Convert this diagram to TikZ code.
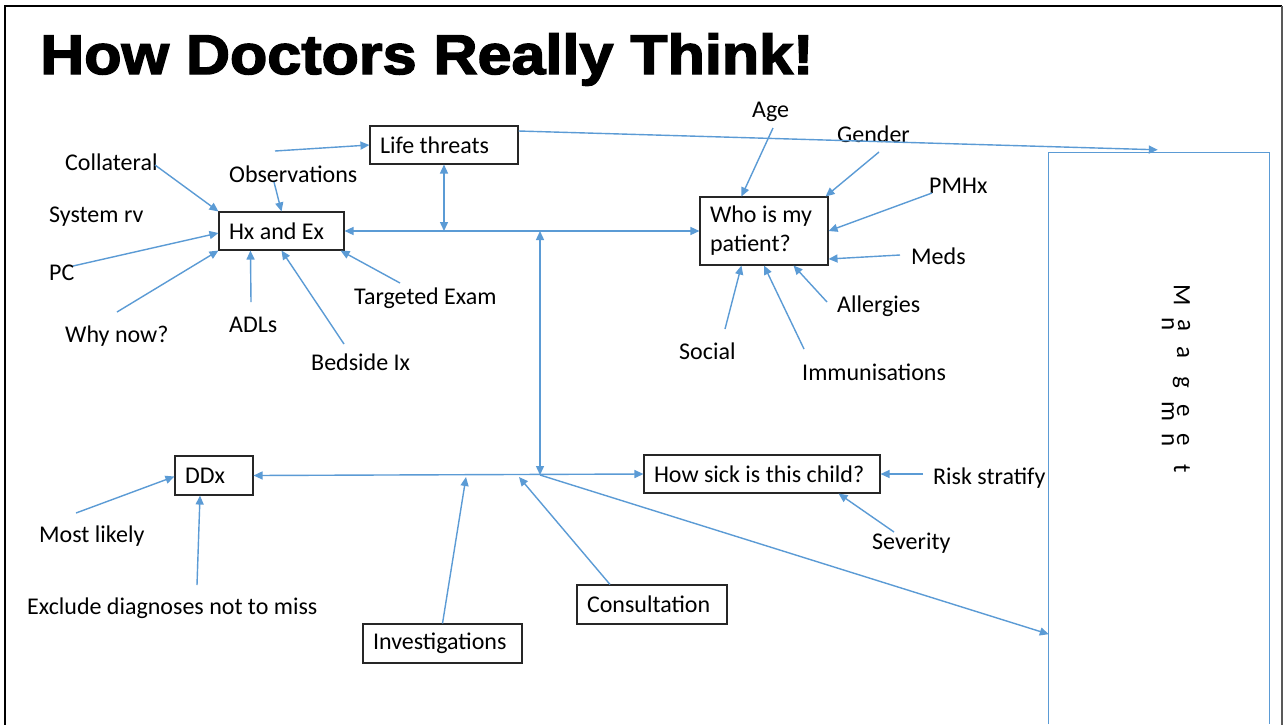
\documentclass[tikz,border=0pt]{standalone}
\usepackage{graphicx}
\usepackage{fontspec}
\setmainfont{Carlito}
\newfontfamily\titlefont[FakeBold=2.5]{Liberation Sans}
\usetikzlibrary{arrows.meta,calc}
\definecolor{linkblue}{RGB}{91,155,213}
\begin{document}
\begin{tikzpicture}[x=1pt,y=-1pt,
  every node/.style={font=\fontsize{24}{29}\selectfont},
  label/.style={anchor=base west, inner sep=0pt},
  box/.style={draw=black!85, line width=1.1pt, inner xsep=10pt, inner ysep=0pt, align=flush left},
  link/.style={draw=linkblue, line width=1.4pt},
  arr/.style={link, -{Triangle[length=9pt,width=8pt]}},
  darr/.style={link, {Triangle[length=9pt,width=8pt]}-{Triangle[length=9pt,width=8pt]}},
  letter/.style={rotate=-90, inner sep=0pt, font=\fontsize{25}{30}\selectfont}
]
\useasboundingbox (0,0) rectangle (1284,724);
\fill[white] (0,0) rectangle (1284,724);

% slide frame
\draw[black, line width=2.5pt] (5,730) -- (5,6) -- (1282,6);
\draw[black!65, line width=2pt] (1282,6) -- (1282,730);

% title
\node[anchor=base west, inner sep=0pt, font=\titlefont\bfseries\fontsize{56}{60}\selectfont] (title) at (40,74)
  {\scalebox{1.09}[1]{How Doctors Really Think!}};

% boxes
\node[box, text width=128pt, minimum height=38pt] (life) at (444,145) {\mbox{Life threats}};
\node[box, text width=105pt, minimum height=38pt] (hx) at (281.5,231) {\mbox{Hx and Ex}};
\node[box, text width=108pt, minimum height=68pt] (who) at (764,231) {\mbox{Who is my}\\\mbox{patient?}};
\node[box, text width=58pt, minimum height=39pt] (ddx) at (214,475.5) {\mbox{DDx}};
\node[box, text width=216pt, minimum height=38pt] (sick) at (762,474) {\mbox{How sick is this child?}};
\node[box, text width=130pt, minimum height=39pt] (consult) at (652,604.5) {\mbox{Consultation}};
\node[box, text width=139pt, minimum height=39pt] (invest) at (442.5,643.5) {\mbox{Investigations}};

% management column (open at the bottom)
\node[inner sep=0pt, minimum width=220pt, minimum height=571pt] (mgmt) at (1159,438.5) {};
\draw[link, line width=1.2pt] (mgmt.south west) -- (mgmt.north west) -- (mgmt.north east) -- (mgmt.south east);
\node[letter] (m1) at (1182,295) {M};
\node[letter] (m2) at (1168,324) {n};
\node[letter] (m3) at (1184,325) {a};
\node[letter] (m4) at (1183,352) {a};
\node[letter] (m5) at (1181,382) {g};
\node[letter] (m6) at (1168,411) {m};
\node[letter] (m7) at (1183,411) {e};
\node[letter] (m8) at (1168,440) {n};
\node[letter] (m9) at (1183,440) {e};
\node[letter] (m10) at (1182,469) {t};

% free labels
\node[label] (collateral) at (65,170) {Collateral};
\node[label] (obs) at (229,182) {Observations};
\node[label] (sysrv) at (49,222) {System rv};
\node[label] (pc) at (49,280) {PC};
\node[label] (why) at (65,342) {Why now?};
\node[label] (adl) at (229,332) {ADLs};
\node[label] (bed) at (311,370) {Bedside Ix};
\node[label] (tgt) at (354,304) {Targeted Exam};
\node[label] (age) at (752,117) {Age};
\node[label] (gen) at (837,142) {Gender};
\node[label] (pmh) at (929,193) {PMHx};
\node[label] (med) at (911,264) {Meds};
\node[label] (all) at (837,312) {Allergies};
\node[label] (soc) at (679,359) {Social};
\node[label] (imm) at (802,380) {Immunisations};
\node[label] (ml) at (39,542) {Most likely};
\node[label] (exc) at (27,614) {Exclude diagnoses not to miss};
\node[label] (risk) at (933,484) {Risk stratify};
\node[label] (sev) at (872,549) {Severity};

% connector ends
\coordinate (c-lt) at (275,151);
\coordinate (c-col) at (155,165);
\coordinate (c-obs) at (274,182);
\coordinate (c-pc) at (73,266);
\coordinate (c-why) at (117,312);
\coordinate (c-adl) at (251,302);
\coordinate (c-bed) at (344,344);
\coordinate (c-tgt) at (400,283);
\coordinate (c-age) at (773,128);
\coordinate (c-gen) at (879,152);
\coordinate (c-pmh) at (932,193);
\coordinate (c-med) at (900,255);
\coordinate (c-all) at (827,302);
\coordinate (c-imm) at (804,349);
\coordinate (c-soc) at (725,329);
\coordinate (c-ml) at (76,513);
\coordinate (c-exc) at (197,585);
\coordinate (c-risk) at (923,474);
\coordinate (c-sev) at (894,532);
\coordinate (hub) at (540,475);
\coordinate (inv-tip) at (466,477);
\coordinate (con-tip) at (519,477);

% inputs to history and examination
\draw[arr] (c-lt) -- (life.west);
\draw[arr] (c-col) -- (hx.north west);
\draw[arr] (c-obs) -- (hx.north);
\draw[arr] (c-pc) -- ($(hx.west)+(0,2)$);
\draw[arr] (c-why) -- (hx.south west);
\draw[arr] (c-adl) -- ($(hx.south west)+(32,0)$);
\draw[arr] (c-bed) -- (hx.south);
\draw[arr] (c-tgt) -- ($(hx.south east)+(-4,0)$);

% inputs to the patient box
\draw[arr] (c-age) -- ($(who.north west)+(42,0)$);
\draw[arr] (c-gen) -- ($(who.north east)+(-3,0)$);
\draw[arr] (c-pmh) -- (who.east);
\draw[arr] (c-med) -- ($(who.east)+(0,28)$);
\draw[arr] (c-all) -- ($(who.south east)+(-35,0)$);
\draw[arr] (c-imm) -- (who.south);
\draw[arr] (c-soc) -- ($(who.south west)+(42,0)$);

% differential and severity inputs
\draw[arr] (c-ml) -- ($(ddx.west)+(0,1)$);
\draw[arr] (c-exc) -- ($(ddx.south)+(-14,0)$);
\draw[arr] (c-risk) -- (sick.east);
\draw[arr] (c-sev) -- ($(sick.south east)+(-42,0)$);

% main spine
\draw[darr] (hx.east) -- (who.west);
\draw[darr] (life.south) -- (life.south |- hx.east);
\draw[darr] (hub |- hx.east) -- (hub);
\draw[darr] (ddx.east) -- (sick.west);
\draw[arr] (invest.north) -- (inv-tip);
\draw[arr] ($(consult.north)+(-42,0)$) -- (con-tip);

% towards management
\draw[arr] ($(life.east)+(0,-14)$) -- ($(mgmt.north west)+(109,-3)$);
\draw[arr] (hub) -- ($(mgmt.south west)+(0,-90)$);
\end{tikzpicture}
\end{document}
